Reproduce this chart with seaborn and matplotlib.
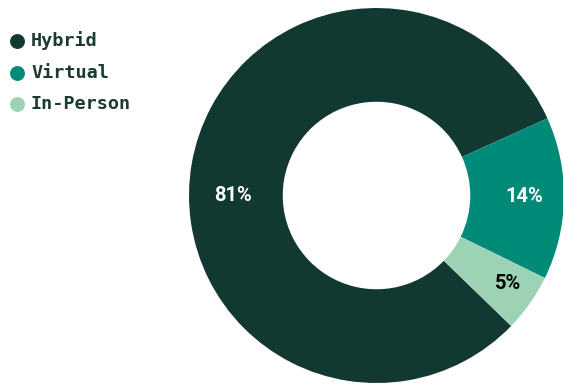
import numpy as np
import matplotlib
matplotlib.use("Agg")
import matplotlib.pyplot as plt
import seaborn as sns

categories = ["Hybrid", "Virtual", "In-Person"]
values = [81, 14, 5]
colors = ["#123832", "#008a78", "#9dd3b5"]
label_colors = ["white", "white", "black"]
label_radius = [0.765, 0.79, 0.845]
label_angle_shift = [10.0, 0.4, 1.2]

sns.set_theme(style="white")
plt.rcParams["font.family"] = ["Roboto", "DejaVu Sans"]

W, H = 563, 385
fig = plt.figure(figsize=(W / 100, H / 100), dpi=100)
ax = fig.add_axes([0, 0, 1, 1])

cx, cy, R = 376.5, 189.5, 187.5
start = -44.1
wedges, _ = ax.pie(values, colors=colors, startangle=start, counterclock=False,
                   center=(cx, cy), radius=R, frame=True,
                   wedgeprops=dict(width=R * 0.5, linewidth=0))
ax.set_xlim(0, W)
ax.set_ylim(0, H)
ax.set_aspect("auto")
ax.axis("off")

total = sum(values)
for w, v, c, rf, sh in zip(wedges, values, label_colors, label_radius, label_angle_shift):
    mid = np.deg2rad((w.theta1 + w.theta2) / 2 + sh)
    ax.text(cx + rf * R * np.cos(mid), cy + rf * R * np.sin(mid),
            f"{round(100 * v / total)}%", ha="center", va="center",
            color=c, fontsize=14.5, fontweight="bold", family="Roboto")

# legend
for i, (cat, col) in enumerate(zip(categories, colors)):
    y = H - (41 + 31.5 * i)
    ax.scatter([17], [y], s=115, color=col, linewidths=0, clip_on=False)
    ax.text(31, y, cat, ha="left", va="center", fontsize=13.3,
            fontweight="bold", family="DejaVu Sans Mono", color="#1a3a33")

fig.savefig("out.png", dpi=100)
